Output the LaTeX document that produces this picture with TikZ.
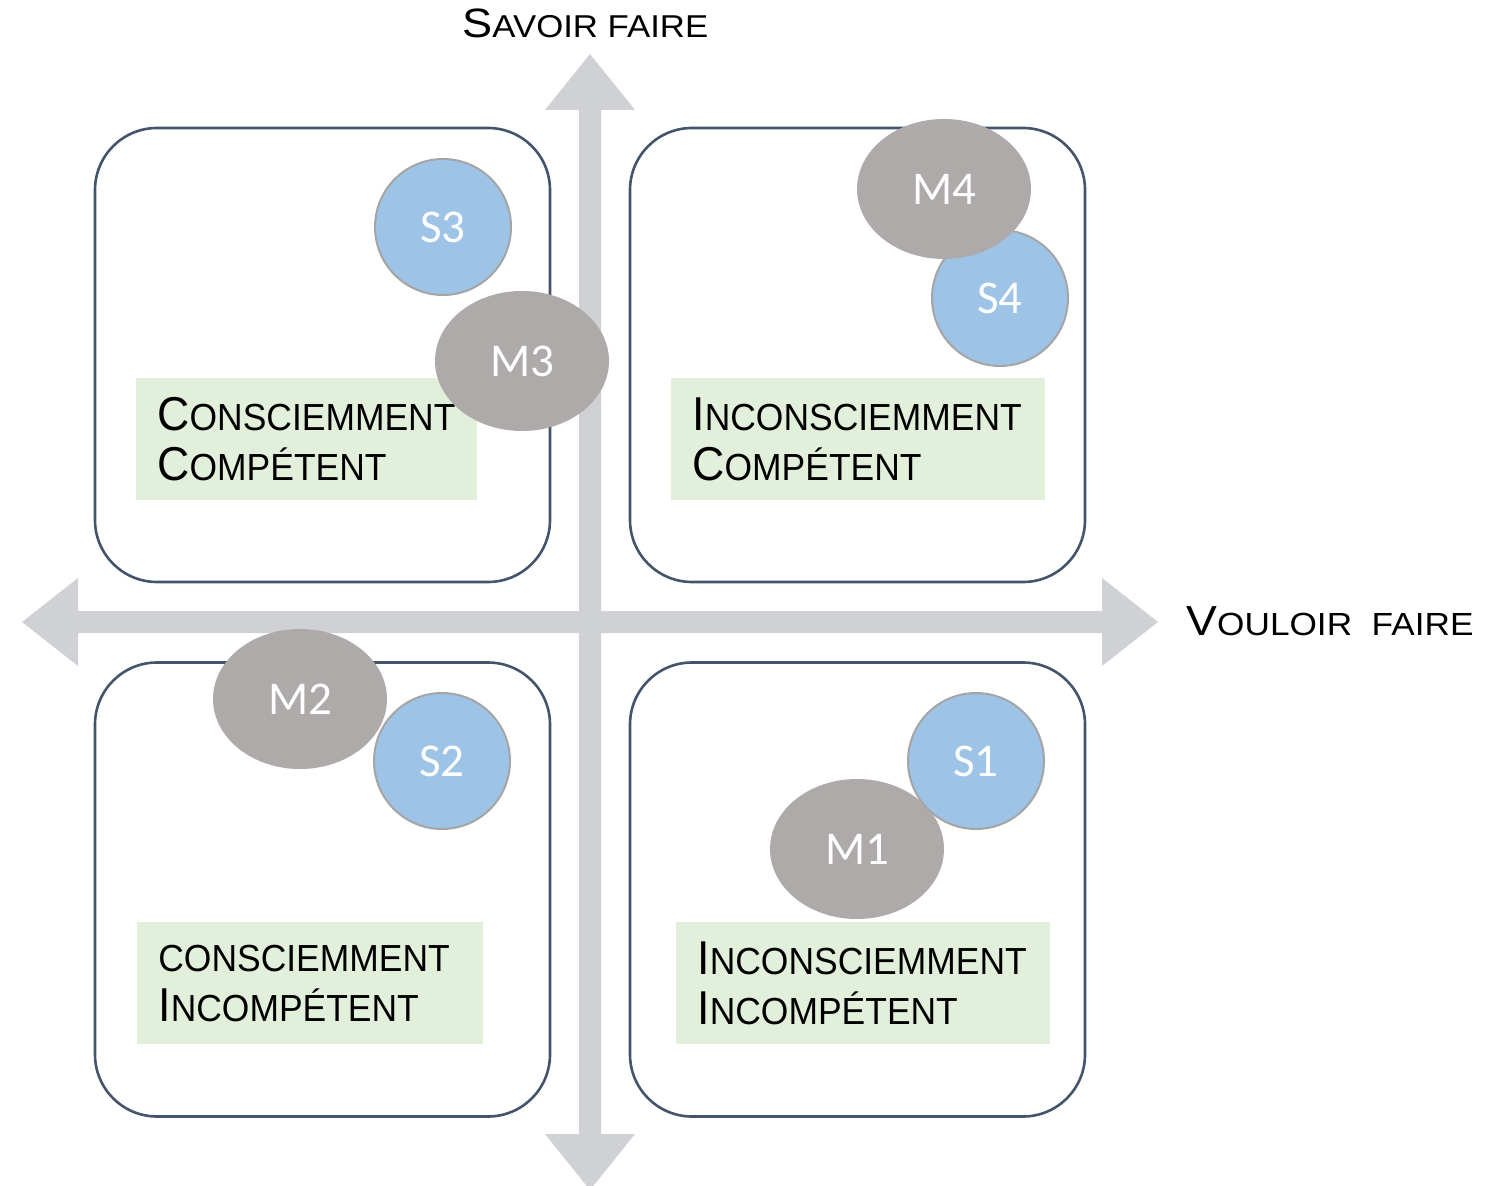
\documentclass[tikz,border=0pt]{standalone}
\usepackage{fontspec}
\usetikzlibrary{shapes.geometric}
\setmainfont{Liberation Sans}
\newfontfamily\labfont[FakeStretch=0.94]{Liberation Sans}
\newfontfamily\axfont[FakeStretch=1.1]{Liberation Sans}
\newfontfamily\bubfont{Carlito}
\definecolor{axisgray}{RGB}{208,209,213}
\definecolor{frame}{RGB}{68,84,106}
\definecolor{lgreen}{RGB}{226,239,218}
\definecolor{sblue}{RGB}{157,195,230}
\definecolor{sborder}{RGB}{165,165,165}
\definecolor{mgray}{RGB}{174,170,170}
% first letter of a word, set larger
\newcommand\upl[2][23.75]{{\fontsize{#1}{25}\selectfont #2}}

\begin{document}
\begin{tikzpicture}[x=0.5pt,y=-0.5pt,
  quad/.style={draw=frame,line width=1.3pt,rounded corners=31pt,minimum width=227.5pt,minimum height=227pt,inner sep=0pt},
  lbl/.style={fill=lgreen,anchor=north west,inner xsep=10.5pt,inner ysep=0pt,minimum height=61pt,align=left,font=\labfont\fontsize{18.85}{25}\selectfont},
  sbub/.style={circle,fill=sblue,draw=sborder,line width=1pt,minimum size=68pt,inner sep=0pt,text=white,font=\bubfont\fontsize{23.5}{23}\selectfont},
  mbub/.style={ellipse,fill=mgray,minimum width=87pt,minimum height=70pt,inner sep=0pt,text=white,font=\bubfont\fontsize{23.5}{23}\selectfont},
  axlbl/.style={anchor=base west,inner sep=0pt,font=\axfont\fontsize{16}{20}\selectfont}]
\useasboundingbox (0,0) rectangle (1486,1186);

% axes
\fill[axisgray] (22,622) -- (78,578) -- (78,611) -- (1102,611) -- (1102,578) -- (1158,622)
  -- (1102,666) -- (1102,633) -- (78,633) -- (78,666) -- cycle;
\fill[axisgray] (590,54) -- (635,110) -- (601,110) -- (601,1134) -- (635,1134) -- (590,1190)
  -- (545,1134) -- (579,1134) -- (579,110) -- (545,110) -- cycle;

\node[axlbl,font=\axfont\fontsize{15.8}{20}\selectfont] (ylab) at (462,38) {\upl[20.5]{S}AVOIR FAIRE};
\node[axlbl] (xlab) at (1186,635) {\upl[21]{V}OULOIR~~FAIRE};

% quadrants
\foreach \n/\x/\y in {1/857.5/889.5, 2/322.5/889.5, 3/322.5/355, 4/857.5/355}
  \node[quad] (q\n) at (\x,\y) {};

\node[lbl,text width=166pt] (l1) at (676,922) {\upl{I}NCONSCIEMMENT\\\upl{I}NCOMPÉTENT};
\node[lbl,text width=152pt] (l2) at (137,922) {CONSCIEMMENT\\\upl{I}NCOMPÉTENT};
\node[lbl,text width=149.5pt] (l3) at (136,378) {\upl{C}ONSCIEMMENT\\\upl{C}OMPÉTENT};
\node[lbl,text width=166pt] (l4) at (671,378) {\upl{I}NCONSCIEMMENT\\\upl{C}OMPÉTENT};

% bubbles
\node[mbub] (m1) at (857,849) {M1};
\node[mbub] (m2) at (300,699) {M2};
\foreach \n/\x/\y in {1/976/761, 2/442/761, 3/443/227, 4/1000/298}
  \node[sbub] (s\n) at (\x,\y) {S\n};
\node[mbub] (m3) at (522,361) {M3};
\node[mbub] (m4) at (944,189) {M4};
\end{tikzpicture}
\end{document}
